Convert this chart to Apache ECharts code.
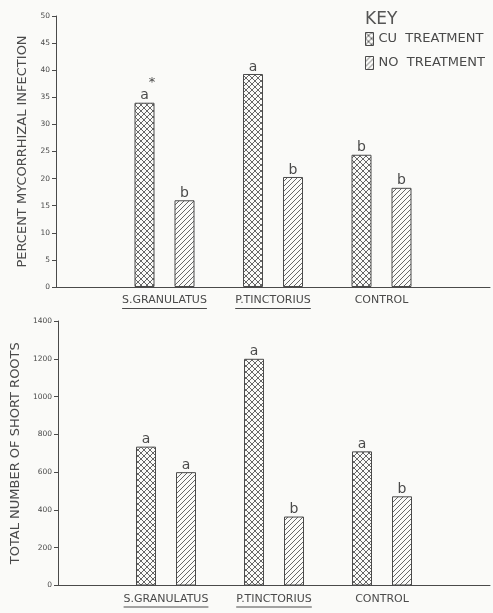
<!DOCTYPE html>
<html>
<head>
<meta charset="utf-8">
<script src="https://cdn.jsdelivr.net/npm/echarts@6/dist/echarts.min.js"></script>
<style>
html,body{margin:0;padding:0;background:#fafaf8;}
#chart{width:493px;height:613px;}
</style>
</head>
<body>
<div id="chart"></div>
<script>
// ---- data ----
const categories = ['S.GRANULATUS', 'P.TINCTORIUS', 'CONTROL'];
const underlinedCategories = ['S.GRANULATUS', 'P.TINCTORIUS'];
const seriesNames = ['CU TREATMENT', 'NO TREATMENT'];
const infectionCu = [34.0, 39.3, 24.4];
const infectionNo = [16.0, 20.3, 18.3];
const infectionCuLetters = ['a', 'a', 'b'];
const infectionNoLetters = ['b', 'b', 'b'];
const infectionStar = ['*', '', ''];
const rootsCu = [735, 1200, 710];
const rootsNo = [600, 365, 472];
const rootsCuLetters = ['a', 'a', 'a'];
const rootsNoLetters = ['a', 'b', 'b'];
const infectionTicks = {min: 0, max: 50, interval: 5};
const rootsTicks = {min: 0, max: 1400, interval: 200};

// ---- style ----
const BG = '#fafaf8';
const INK = '#4a4a4a';
const FONT = 'DejaVu Sans';

function crossPattern() {
  const c = document.createElement('canvas');
  c.width = 6; c.height = 6;
  const g = c.getContext('2d');
  g.fillStyle = BG; g.fillRect(0, 0, 6, 6);
  g.strokeStyle = '#555'; g.lineWidth = 0.9;
  g.beginPath();
  g.moveTo(0, 0); g.lineTo(6, 6);
  g.moveTo(0, 6); g.lineTo(6, 0);
  g.stroke();
  return c;
}
function diagPattern() {
  const c = document.createElement('canvas');
  c.width = 5; c.height = 5;
  const g = c.getContext('2d');
  g.fillStyle = BG; g.fillRect(0, 0, 5, 5);
  g.strokeStyle = '#555'; g.lineWidth = 0.9;
  g.beginPath();
  g.moveTo(0, 5); g.lineTo(5, 0);
  g.moveTo(-1, 1); g.lineTo(1, -1);
  g.moveTo(4, 6); g.lineTo(6, 4);
  g.stroke();
  return c;
}
const cuFill = {image: crossPattern(), repeat: 'repeat'};
const noFill = {image: diagPattern(), repeat: 'repeat'};

const axisCats = [''].concat(categories, ['']);
const pad = arr => [null].concat(arr, [null]);

const catLabelFont = 11;
const measure = (() => {
  const c = document.createElement('canvas').getContext('2d');
  c.font = catLabelFont + 'px "' + FONT + '"';
  return t => c.measureText(t).width;
})();
const rich = {t: {fontSize: catLabelFont, fontFamily: FONT, color: INK, lineHeight: 13}};
categories.forEach((c, i) => {
  rich['u' + i] = {width: measure(c), height: 1, lineHeight: 3, backgroundColor: INK};
});

function xAxis(gridIndex) {
  return {
    type: 'category', gridIndex: gridIndex, data: axisCats, boundaryGap: false,
    axisLine: {lineStyle: {color: INK, width: 1}},
    axisTick: {show: false},
    axisLabel: {
      interval: 0, margin: 7,
      formatter: v => {
        const i = categories.indexOf(v);
        if (i < 0) return '';
        return underlinedCategories.indexOf(v) >= 0 ? '{t|' + v + '}\n{u' + i + '|}' : '{t|' + v + '}';
      },
      rich: rich
    }
  };
}
function yAxis(gridIndex, ticks, name, gap) {
  return {
    type: 'value', gridIndex: gridIndex, min: ticks.min, max: ticks.max, interval: ticks.interval,
    name: name, nameLocation: 'middle', nameGap: gap,
    nameTextStyle: {fontSize: 13, fontFamily: FONT, color: INK},
    splitLine: {show: false},
    axisLine: {show: true, lineStyle: {color: INK, width: 1}},
    axisTick: {show: true, length: 4, lineStyle: {color: INK}},
    axisLabel: {fontSize: 7.5, fontFamily: FONT, color: INK, margin: 6, formatter: v => String(v)}
  };
}
const letterStyle = {fontSize: 14, fontFamily: FONT, color: INK};
function barSeries(name, axisIndex, values, letters, fill, star) {
  return {
    type: 'bar', name: name, xAxisIndex: axisIndex, yAxisIndex: axisIndex,
    data: pad(values), barWidth: 20, barGap: '100%',
    itemStyle: {color: fill, borderColor: '#4a4a4a', borderWidth: 1},
    label: {
      show: true, position: 'top', distance: 0,
      formatter: p => {
        const i = p.dataIndex - 1;
        const s = star && star[i] ? '{s|' + star[i] + '}\n' : '';
        return s + '{l|' + letters[i] + '}';
      },
      rich: {
        l: Object.assign({lineHeight: 14}, letterStyle),
        s: {fontSize: 13, fontFamily: FONT, color: INK, lineHeight: 13, padding: [0, 0, 0, 15]}
      }
    },
    emphasis: {disabled: true},
    animation: false
  };
}

const chart = echarts.init(document.getElementById('chart'), null, {renderer: 'canvas'});
chart.setOption({
  backgroundColor: BG,
  animation: false,
  title: {
    text: 'KEY', left: 360, top: 6,
    textStyle: {fontSize: 17, fontWeight: 'normal', fontFamily: FONT, color: '#555'}
  },
  legend: {
    data: seriesNames, orient: 'vertical', left: 360, top: 27,
    itemWidth: 8, itemHeight: 13, itemGap: 10, icon: 'rect',
    formatter: n => n.replace(' ', '  '),
    textStyle: {fontSize: 13, fontFamily: FONT, color: INK},
    itemStyle: {borderColor: '#4a4a4a', borderWidth: 1},
    selectedMode: false
  },
  grid: [
    {left: 56, top: 16, width: 440, height: 271},
    {left: 58, top: 321, width: 440, height: 271}
  ],
  xAxis: [xAxis(0), xAxis(1)],
  yAxis: [
    yAxis(0, infectionTicks, 'PERCENT MYCORRHIZAL INFECTION', 27),
    yAxis(1, rootsTicks, 'TOTAL NUMBER OF SHORT ROOTS', 26)
  ],
  series: [
    barSeries(seriesNames[0], 0, infectionCu, infectionCuLetters, cuFill, infectionStar),
    barSeries(seriesNames[1], 0, infectionNo, infectionNoLetters, noFill),
    barSeries(seriesNames[0], 1, rootsCu, rootsCuLetters, cuFill),
    barSeries(seriesNames[1], 1, rootsNo, rootsNoLetters, noFill)
  ]
});
</script>
</body>
</html>
